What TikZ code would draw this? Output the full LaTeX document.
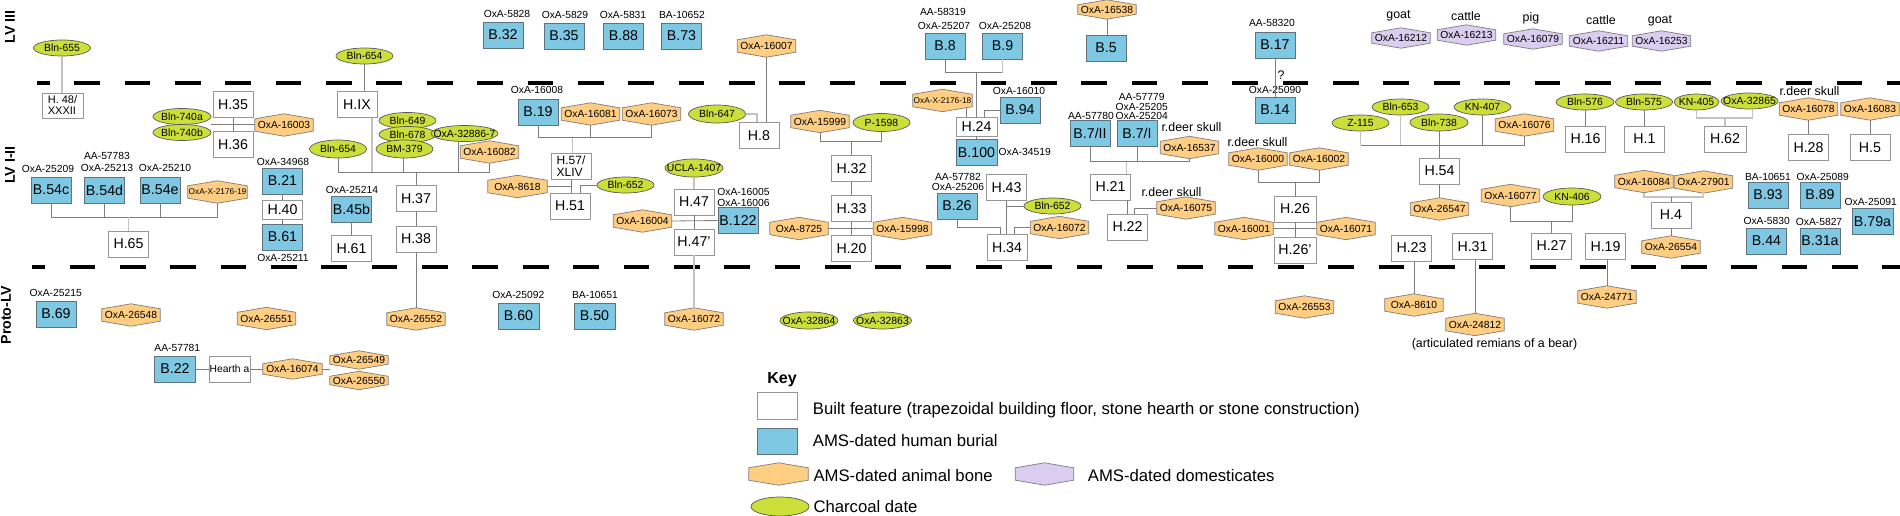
\documentclass[tikz,border=0pt]{standalone}
\usepackage{fontspec}
\setmainfont{Liberation Sans}
\usetikzlibrary{shapes.geometric}
\definecolor{burC}{RGB}{126,200,228}
\definecolor{burL}{RGB}{95,115,125}
\definecolor{boneC}{RGB}{255,206,130}
\definecolor{domC}{RGB}{218,205,240}
\definecolor{charC}{RGB}{204,222,58}
\definecolor{edgeC}{RGB}{125,125,125}
\definecolor{charL}{RGB}{90,90,90}
\definecolor{boxL}{RGB}{150,150,150}
\definecolor{lineC}{RGB}{125,125,125}
\definecolor{lineL}{RGB}{195,195,195}
\pgfdeclarelayer{background}
\pgfsetlayers{background,main}
\newcommand\myfs[1]{\fontsize{#1}{#1}\selectfont}
\newcommand\Z[1]{\makebox[0pt]{\raisebox{-0.36em}[0pt][0pt]{#1}}}
\tikzset{
 feat/.style={draw=boxL, fill=white, line width=0.9pt, minimum width=40pt, minimum height=26pt, inner sep=0pt, font=\myfs{14.2}},
 bur/.style={draw=burL, fill=burC, line width=0.8pt, minimum width=40pt, minimum height=26pt, inner sep=0pt, font=\myfs{14.2}},
 lab/.style={inner sep=0pt, font=\myfs{10.3}},
 note/.style={inner sep=0pt, font=\myfs{12.4}},
 hexn/.style={inner sep=0pt, minimum width=58pt, minimum height=22pt, font=\myfs{10.3}},
 charn/.style={ellipse, draw=charL, fill=charC, line width=0.7pt, inner sep=0pt, minimum width=57pt, minimum height=16pt, font=\myfs{10.4}},
 ln/.style={draw=lineC, line width=0.8pt},
 lnl/.style={draw=lineL, line width=1.6pt},
 keytxt/.style={anchor=base west, inner sep=0pt, font=\myfs{16.7}},
 layer/.style={rotate=90, inner sep=0pt, font=\bfseries\myfs{14.2}},
 sep/.style={line width=4pt, dash pattern=on 25.7pt off 24.65pt},
}
\newcommand\hexbg[3][5pt]{%
 \begin{pgfonlayer}{background}
 \filldraw[fill=#3, draw=edgeC, line width=0.7pt] ([yshift=-#1]#2.north west) -- (#2.north) -- ([yshift=-#1]#2.north east) -- ([yshift=#1]#2.south east) -- (#2.south) -- ([yshift=#1]#2.south west) -- cycle;
 \end{pgfonlayer}}
\newcommand\Bone[4][]{\node[hexn,#1] (#2) at (#3) {#4};\hexbg{#2}{boneC}}
\newcommand\Dom[4][]{\node[hexn,#1] (#2) at (#3) {#4};\hexbg{#2}{domC}}
\newcommand\Char[4][]{\node[charn,#1] (#2) at (#3) {\Z{#4}};}
\begin{document}
\begin{tikzpicture}[x=1pt,y=-1pt]
\useasboundingbox (0,0) rectangle (1900,516);
% separators
\draw[sep, dash phase=13pt] (37,83.3) -- (1900,83.3);
\draw[sep, dash phase=12.7pt] (32,267.3) -- (1900,267.3);
% layer labels
\node[layer] (Lv3) at (10,26.7) {LV III};
\node[layer] (Lv12) at (10,165) {LV I-II};
\node[layer] (Lpr) at (6,315) {Proto-LV};

%% ===== LV III =====
\Char{c655}{62,48}{Bln-655}
\Char{c654a}{364.5,56}{Bln-654}
\node[bur] (b32) at (503,35) {B.32};   \node[lab] (lb32) at (507,14) {OxA-5828};
\node[bur] (b35) at (564,36) {B.35};   \node[lab] (lb35) at (565,15) {OxA-5829};
\node[bur] (b88) at (623.5,36) {B.88}; \node[lab] (lb88) at (623,15) {OxA-5831};
\node[bur] (b73) at (681.5,36) {B.73}; \node[lab] (lb73) at (682,15) {BA-10652};
\Bone{x16007}{766.5,46}{OxA-16007}
\node[bur] (b8) at (945,46) {B.8};
\node[lab] (lb8a) at (943,12.3) {AA-58319};
\node[lab] (lb8b) at (944,25.7) {OxA-25207};
\node[bur] (b9) at (1002.5,46) {B.9};  \node[lab] (lb9) at (1005,25.7) {OxA-25208};
\Bone[minimum height=19pt]{x16538}{1107,9.5}{OxA-16538}
\node[bur] (b5) at (1106,48) {B.5};
\node[bur] (b17) at (1275,45) {B.17};  \node[lab] (lb17) at (1272,23.3) {AA-58320};
\node[note] (qm) at (1281,75) {?};
\node[note] (ng1) at (1398.5,16) {goat};
\Dom[minimum height=20pt]{d16212}{1401,38}{OxA-16212}
\node[note] (nc1) at (1466,16.5) {cattle};
\Dom[minimum height=20pt]{d16213}{1466.5,35}{OxA-16213}
\node[note] (np1) at (1531,18) {pig};
\Dom[minimum height=20pt]{d16079}{1533,39}{OxA-16079}
\node[note] (nc2) at (1601,20.5) {cattle};
\Dom[minimum height=20pt]{d16211}{1598.5,41}{OxA-16211}
\node[note] (ng2) at (1660,21) {goat};
\Dom[minimum height=20pt]{d16253}{1661.5,41}{OxA-16253}

%% ===== LV I-II =====
\node[feat, minimum width=41pt, minimum height=25pt, align=left, font=\myfs{11}] (h48) at (62.5,105.5) {H. 48/\\XXXII};
\node[feat] (h35) at (233,104.5) {H.35};
\node[feat] (h36) at (233,144.5) {H.36};
\Char[minimum width=58pt]{c740a}{182,116.5}{Bln-740a}
\Char[minimum width=58pt]{c740b}{182,132.5}{Bln-740b}
\Bone{x16003}{284,125}{OxA-16003}
\node[bur] (b54c) at (51,190) {B.54c};  \node[lab] (lb54c) at (48,168.5) {OxA-25209};
\node[bur] (b54d) at (104.5,190) {B.54d};
\node[lab] (lb54d1) at (107,156) {AA-57783};
\node[lab] (lb54d2) at (107,168) {OxA-25213};
\node[bur] (b54e) at (160,190) {B.54e};  \node[lab] (lb54e) at (165,168) {OxA-25210};
\Bone[font=\myfs{8.3},minimum width=59pt]{xX19}{217.5,192}{OxA-X-2176-19}
\node[feat] (h65) at (128.5,244) {H.65};

\node[feat] (hIX) at (357,104.5) {H.IX};
\Char{c649}{407.5,120.5}{Bln-649}
\Char{c678}{407.5,134.5}{Bln-678}
\Char[minimum width=67pt]{c32886}{464.5,133.5}{OxA-32886-7}
\Char[minimum height=18pt]{cBM}{404.5,149}{BM-379}
\Char[minimum height=18pt]{c654b}{338,149}{Bln-654}
\Bone{x16082}{489.5,152}{OxA-16082}
\node[feat] (h37) at (416,198.5) {H.37};
\node[feat] (h38) at (416,239) {H.38};
\node[bur] (b45b) at (351.5,209) {B.45b}; \node[lab] (lb45b) at (352,189.5) {OxA-25214};
\node[feat] (h61) at (351.5,248.5) {H.61};
\node[bur] (b21) at (282.5,181) {B.21};   \node[lab] (lb21) at (283,162) {OxA-34968};
\node[feat, minimum height=19pt] (h40) at (282.5,209.5) {H.40};
\node[bur] (b61) at (282.5,237) {B.61};   \node[lab] (lb61) at (283,257.5) {OxA-25211};
\Bone[minimum width=59pt]{x8618}{517.5,186.5}{OxA-8618}

\node[bur] (b19) at (538,112) {B.19};     \node[lab] (lb19) at (537,90) {OxA-16008};
\Bone{x16081}{590.5,114}{OxA-16081}
\Bone{x16073}{651.5,114}{OxA-16073}
\node[feat, align=left, font=\myfs{12}] (h57) at (571,166) {H.57/\\XLIV};
\node[feat] (h51) at (570,206) {H.51};
\Char{c652a}{625.5,185}{Bln-652}
\Char[minimum height=18pt]{c647}{717,114}{Bln-647}
\node[feat] (h8) at (759,135.5) {H.8};
\Char[minimum width=58pt, minimum height=18pt]{cUCLA}{694,168}{UCLA-1407}
\node[feat] (h47) at (694,202) {H.47};
\node[feat] (h47p) at (694,242) {H.47’};
\node[bur] (b122) at (738,220.5) {B.122};
\node[lab] (lb122a) at (743.5,191.7) {OxA-16005};
\node[lab] (lb122b) at (743.5,203) {OxA-16006};
\Bone{x16004}{642.5,221}{OxA-16004}
\Bone{x8725}{799,228.5}{OxA-8725}
\Bone{x15999}{820,121.5}{OxA-15999}
\Char[minimum height=18pt]{cP1598}{881.5,122.5}{P-1598}
\node[feat] (h32) at (851.5,168.5) {H.32};
\node[feat] (h33) at (851.5,208.5) {H.33};
\node[feat] (h20) at (851.5,248.5) {H.20};
\Bone{x15998}{902.5,228.5}{OxA-15998}

\Bone[font=\myfs{8.3},minimum width=59pt]{xX18}{942.5,100.5}{OxA-X-2176-18}
\node[bur] (b94) at (1020,110) {B.94};    \node[lab] (lb94) at (1019,90.7) {OxA-16010};
\node[feat, minimum width=41pt, minimum height=19pt] (h24) at (976.5,126.5) {H.24};
\node[bur, minimum width=41pt] (b100) at (976.5,152.5) {B.100};
\node[lab, anchor=west] (lb100) at (998.5,151.7) {OxA-34519};
\node[bur] (b26) at (957,206) {B.26};
\node[lab] (lb26a) at (958,176.7) {AA-57782};
\node[lab] (lb26b) at (958,187.3) {OxA-25206};
\node[feat] (h43) at (1006.5,187.5) {H.43};
\Char{c652b}{1052.5,206}{Bln-652}
\Bone{x16072a}{1059.5,227.5}{OxA-16072}
\node[feat] (h34) at (1007,247.5) {H.34};

\node[bur] (b7II) at (1090,133.5) {B.7/II}; \node[lab] (lb7II) at (1091,116) {AA-57780};
\node[bur] (b7I) at (1137,133.5) {B.7/I};
\node[lab] (lb7I1) at (1141.7,96.7) {AA-57779};
\node[lab] (lb7I2) at (1141.7,106.7) {OxA-25205};
\node[lab] (lb7I3) at (1141.7,116) {OxA-25204};
\node[bur] (b14) at (1275,110) {B.14};     \node[lab] (lb14) at (1275,90) {OxA-25090};
\node[note] (nr1) at (1191.5,127) {r.deer skull};
\Bone{x16537}{1189.5,147.5}{OxA-16537}
\node[feat] (h21) at (1110.5,187) {H.21};
\node[feat] (h22) at (1127.5,227) {H.22};
\node[note] (nr2) at (1171.5,191.7) {r.deer skull};
\Bone{x16075}{1186,208}{OxA-16075}
\node[note] (nr3) at (1257.5,141.7) {r.deer skull};
\Bone{x16000}{1258,159}{OxA-16000}
\Bone{x16002}{1319,159}{OxA-16002}
\node[feat, minimum width=42pt] (h26) at (1295,209) {H.26};
\node[feat, minimum width=42pt] (h26p) at (1295,250) {H.26’};
\Bone{x16001}{1244,228.5}{OxA-16001}
\Bone{x16071}{1346,228.5}{OxA-16071}

\Char{cZ115}{1360.5,123}{Z-115}
\Char{c653}{1400.5,107}{Bln-653}
\Char{cKN407}{1482.5,107}{KN-407}
\Char[minimum width=58pt, minimum height=17pt]{c738}{1439,122.5}{Bln-738}
\Bone{x16076}{1524.5,125}{OxA-16076}
\node[feat] (h54) at (1439.5,171) {H.54};
\Bone{x26547}{1439.5,209}{OxA-26547}
\Char[minimum width=58pt]{c576}{1585,102}{Bln-576}
\node[feat] (h16) at (1585.5,139) {H.16};
\Bone{x16077}{1510.5,195.5}{OxA-16077}
\Char[minimum width=58pt, minimum height=17pt]{cKN406}{1572,196.5}{KN-406}
\node[feat] (h27) at (1551.5,246) {H.27};
\node[feat] (h23) at (1411.5,248) {H.23};
\node[feat] (h31) at (1472.5,246.5) {H.31};
\node[feat] (h19) at (1605.5,246.5) {H.19};

\Char{c575}{1644,102}{Bln-575}
\node[feat] (h1) at (1644.5,139) {H.1};
\Char[minimum width=45pt]{cKN405}{1696.5,102}{KN-405}
\Char{c32865}{1749.5,101}{OxA-32865}
\node[feat, minimum width=42pt] (h62) at (1725,139) {H.62};
\node[note] (nr4) at (1809.5,91) {r.deer skull};
\Bone{x16078}{1808.5,109}{OxA-16078}
\Bone{x16083}{1870,109}{OxA-16083}
\node[feat] (h28) at (1808.5,147.5) {H.28};
\node[feat] (h5) at (1870,147.5) {H.5};
\Bone{x16084}{1644,181.5}{OxA-16084}
\Bone{x27901}{1703.5,182}{OxA-27901}
\node[feat] (h4) at (1671,215) {H.4};
\Bone{x26554}{1671,247}{OxA-26554}
\node[bur] (b93) at (1768,195) {B.93};    \node[lab] (lb93) at (1768,176.7) {BA-10651};
\node[bur] (b89) at (1820,195) {B.89};    \node[lab] (lb89) at (1822.7,176.7) {OxA-25089};
\node[bur] (b44) at (1766.5,241) {B.44};  \node[lab] (lb44) at (1766.7,220.7) {OxA-5830};
\node[bur] (b31a) at (1820,241) {B.31a};  \node[lab] (lb31a) at (1819,221.7) {OxA-5827};
\node[bur, minimum width=41pt] (b79a) at (1872.5,221.5) {B.79a}; \node[lab] (lb79a) at (1870.7,202.3) {OxA-25091};

%% ===== Proto-LV =====
\node[bur] (b69) at (56,314) {B.69};      \node[lab] (lb69) at (55.7,293.3) {OxA-25215};
\Bone{x26548}{131,315}{OxA-26548}
\Bone{x26551}{266.5,318.5}{OxA-26551}
\Bone{x26552}{416,319}{OxA-26552}
\node[bur, minimum width=41pt] (b22) at (175,369) {B.22}; \node[lab] (lb22) at (177.3,348.3) {AA-57781};
\node[feat, minimum width=41pt, font=\myfs{10.3}] (hearth) at (229.5,369) {Hearth a};
\Bone[minimum height=20pt, minimum width=59pt]{x16074}{292.5,369}{OxA-16074}
\Bone[minimum height=18pt]{x26549}{359,360}{OxA-26549}
\Bone[minimum height=18pt]{x26550}{359,380.5}{OxA-26550}
\node[bur, minimum width=41pt] (b60) at (518.5,316) {B.60}; \node[lab] (lb60) at (518.3,295) {OxA-25092};
\node[bur, minimum width=41pt] (b50) at (594.5,316) {B.50}; \node[lab] (lb50) at (595,295) {BA-10651};
\Bone{x16072b}{694,319}{OxA-16072}
\Char[minimum width=58pt, minimum height=17pt]{c32864}{809,320.5}{OxA-32864}
\Char[minimum width=58pt, minimum height=17pt]{c32863}{882.5,320.5}{OxA-32863}
\Bone{x26553}{1304.5,307}{OxA-26553}
\Bone{x8610}{1414,305}{OxA-8610}
\Bone{x24812}{1475,324.5}{OxA-24812}
\node[note] (nbear) at (1494.5,344.3) {(articulated remians of a bear)};
\Bone{x24771}{1607,297}{OxA-24771}

%% ===== Key =====
\node[inner sep=0pt, font=\bfseries\myfs{16}] (keyt) at (782,380) {Key};
\node[feat, minimum height=27pt] (k1) at (777,405.5) {};
\node[bur] (k2) at (777,441) {};
\Bone[minimum width=59pt]{k3}{778.5,474}{}
\Dom{k4}{1044.5,474}{}
\Char[minimum width=58pt, minimum height=19pt]{k5}{780,506.5}{}
\node[keytxt] (kt1) at (812.7,414.3) {Built feature (trapezoidal building floor, stone hearth or stone construction)};
\node[keytxt] (kt2) at (812.7,446) {AMS-dated human burial};
\node[keytxt] (kt3) at (813.3,481) {AMS-dated animal bone};
\node[keytxt] (kt4) at (1087.7,481) {AMS-dated domesticates};
\node[keytxt] (kt5) at (813.3,512) {Charcoal date};

%% ===== connectors =====
\coordinate (bar65) at (0,217);
\coordinate (bar37) at (0,172.3);
\coordinate (bar57) at (0,137.7);
\coordinate (bar32) at (0,141);
\coordinate (bar24) at (0,72.7);
\coordinate (bar34) at (0,227.7);
\coordinate (bar21) at (0,161.7);
\coordinate (bar26) at (0,182.7);
\coordinate (bar54) at (0,145);
\coordinate (bar27) at (0,221);
\coordinate (bar62) at (0,118.3);
\coordinate (bar4) at (0,196.7);

\draw[lnl] (c655.south) -- (c655.south |- h48.north);
\draw[ln] (h35.south) -- (h36.north);
\draw[ln] (c740a.east |- c740a.south) -- (x16003.west |- c740a.south);
\draw[ln] (b54c.south) |- (xX19.south |- bar65) -- (xX19.south);
\draw[ln] (b54d.south) -- (b54d.south |- bar65);
\draw[ln] (b54e.south) -- (b54e.south |- bar65);
\draw[lnl] (h65.north) -- (h65.north |- bar65);

\draw[ln] (c654a.south) -- (c654a.south |- hIX.north);
\draw[ln] (c654b.south) |- (x16082.south |- bar37) -- (x16082.south);
\draw[lnl] ([xshift=15pt]hIX.south) -- ([xshift=15pt]hIX.south |- bar37);
\draw[ln] ([xshift=-1.5pt]cBM.south) -- ([xshift=-1.5pt]cBM.south |- bar37);
\draw[ln] ([xshift=-6pt]c32886.south) -- ([xshift=-6pt]c32886.south |- bar37);
\draw[ln] (h37.north) -- (h37.north |- bar37);
\draw[ln] (h37.south) -- (h38.north);
\draw[ln] (h38.south) -- (x26552.north);
\draw[ln] (b45b.south) -- (h61.north);
\draw[ln] (b21.south) -- (h40.north);
\draw[ln] (h40.south) -- (b61.north);

\draw[ln] (b19.south) |- (x16073.south |- bar57) -- (x16073.south);
\draw[ln] (x16081.south) -- (x16081.south |- bar57);
\draw[lnl] ([xshift=1.5pt]h57.north |- bar57) -- ([xshift=1.5pt]h57.north);
\draw[ln] (h57.south) -- (h57.south |- h51.north);
\draw[ln] (x8618.east) -- (x8618.east -| h57.south);
\draw[ln] (c652a.west) -| ([xshift=10pt]h51.north);
\draw[ln] (x16007.south) -- (x16007.south |- h8.north);
\draw[lnl] (c647.east) -| ([xshift=-2pt]h8.north);
\draw[lnl] (cUCLA.south) -- (h47.north);
\draw[ln] (h47.south) -- (h47p.north);
\draw[lnl] (h47p.south) -- (x16072b.north);
\draw[ln] (x16004.east) -- (b122.west);

\draw[ln] (x15999.south) |- (cP1598.south |- bar32) -- (cP1598.south);
\draw[ln] (h32.north) -- (h32.north |- bar32);
\draw[ln] (h32.south) -- (h33.north);
\draw[ln] (h33.south) -- (h20.north);
\draw[ln] (x8725.east) -- (x15998.west);

\draw[ln] (b8.south) |- (b9.south |- bar24);
\draw[lnl] (b9.south) -- (b9.south |- bar24);
\draw[ln] (h24.north |- bar24) -- (h24.north);
\draw[ln] ([xshift=-6pt,yshift=4pt]xX18.south east) -- ([xshift=-6pt]xX18.south east |- h24.north);
\draw[ln] (b94.west) -| ([xshift=7.5pt]h24.north);
\draw[ln] (h24.south) -- (b100.north);
\draw[ln] (b26.south) |- ([xshift=-7pt]h34.north |- bar34) -- ([xshift=-7pt]h34.north);
\draw[ln] (h43.south) -- (h43.south |- h34.north);
\draw[ln] (c652b.west) -- (c652b.west -| h43.south);
\draw[ln] (x16072a.west) -| ([xshift=7pt]h34.north);

\draw[ln] (b7II.south) |- (x16537.south |- bar21) -- (x16537.south);
\draw[ln] (b7I.south) -- (b7I.south |- bar21);
\draw[lnl] ([xshift=16pt]h21.north |- bar21) -- ([xshift=16pt]h21.north);
\draw[ln] ([xshift=17pt]h21.south) -- ([xshift=17pt]h21.south |- h22.north);
\draw[ln] (x16075.west) -| ([xshift=7pt]h22.north);
\draw[ln] (b17.south) -- (b14.north);
\draw[ln] (x16000.south) |- (x16002.south |- bar26) -- (x16002.south);
\draw[ln] (h26.north |- bar26) -- (h26.north);
\draw[ln] (h26.south) -- (h26p.north);
\draw[ln] (x16001.east) -- (x16071.west);
\draw[ln] (x16538.south) -- (x16538.south |- b5.north);

\draw[ln] (cZ115.south |- bar54) -- (x16076.south |- bar54);
\draw[lnl] (cZ115.south) -- (cZ115.south |- bar54);
\draw[lnl] (c653.south) -- (c653.south |- bar54);
\draw[ln] (c738.south) -- (c738.south |- h54.north);
\draw[ln] (cKN407.south) -- (cKN407.south |- bar54);
\draw[ln] (x16076.south) -- (x16076.south |- bar54);
\draw[ln] (h54.south) -- (x26547.north);
\draw[ln] (c576.south) -- (c576.south |- h16.north);
\draw[ln] (x16077.south) |- (cKN406.south |- bar27) -- (cKN406.south);
\draw[ln] (h27.north |- bar27) -- (h27.north);
\draw[ln] (x8610.north |- h23.south) -- (x8610.north);
\draw[ln] (x24812.north |- h31.south) -- (x24812.north);
\draw[ln] (x24771.north |- h19.south) -- (x24771.north);
\draw[ln] (c575.south) -- (c575.south |- h1.north);
\draw[lnl] (cKN405.south) |- ([xshift=3pt]c32865.south |- bar62) -- ([xshift=3pt]c32865.south);
\draw[lnl] (h62.north |- bar62) -- (h62.north);
\draw[ln] (x16078.south) -- (h28.north);
\draw[ln] (x16083.south) -- (h5.north);
\draw[lnl] (x16084.south) |- (x27901.south |- bar4) -- (x27901.south);
\draw[ln] (h4.north |- bar4) -- (h4.north);
\draw[ln] (h4.south) -- (x26554.north);

\draw[ln] (b22.east) -- (hearth.west);
\draw[ln] (hearth.east) -- (x16074.west);
\draw[ln] (x16074.east) -- (x16074.east -| x26549.west);
\end{tikzpicture}
\end{document}
